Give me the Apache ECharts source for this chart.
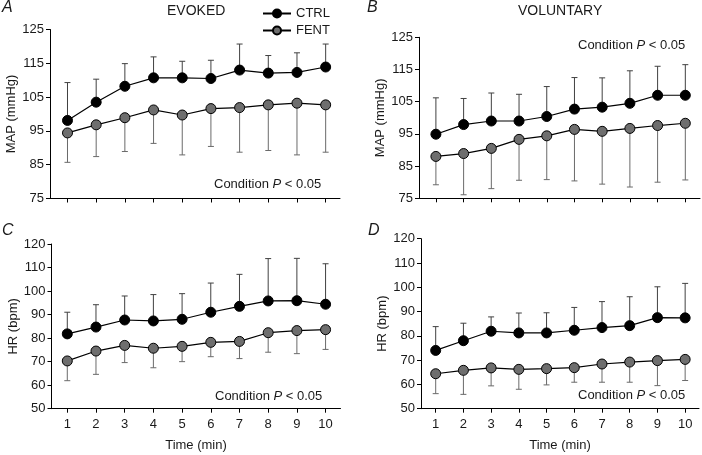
<!DOCTYPE html>
<html>
<head>
<meta charset="utf-8">
<script src="https://cdn.jsdelivr.net/npm/echarts@6/dist/echarts.min.js"></script>
<style>
  html, body { margin: 0; padding: 0; background: #fff; }
  #main { width: 702px; height: 455px; }
</style>
</head>
<body>
<div id="main"></div>
<script>
// time points (min)
var times = [1, 2, 3, 4, 5, 6, 7, 8, 9, 10];
var mapTicks = [75, 125, 10];
var hrTicks = [50, 120, 10];

// A - evoked MAP
var evokedMapCtrl = [98.1, 103.5, 108.2, 110.7, 110.7, 110.5, 113.0, 112.1, 112.3, 113.9];
var evokedMapCtrlSd = [11.2, 6.8, 6.7, 6.2, 4.9, 5.4, 7.7, 5.2, 5.8, 6.8];
var evokedMapFent = [94.4, 96.8, 98.9, 101.2, 99.7, 101.6, 101.9, 102.7, 103.2, 102.7];
var evokedMapFentSd = [8.7, 9.4, 10.0, 9.9, 11.8, 11.2, 13.2, 13.5, 15.3, 14.0];

// B - voluntary MAP
var volMapCtrl = [94.9, 97.9, 99.0, 99.0, 100.4, 102.7, 103.3, 104.5, 107.0, 107.0];
var volMapCtrlSd = [11.3, 8.1, 8.7, 8.3, 9.3, 9.8, 9.1, 10.1, 9.0, 9.5];
var volMapFent = [88.0, 88.9, 90.5, 93.3, 94.4, 96.4, 95.8, 96.7, 97.6, 98.3];
var volMapFentSd = [8.8, 12.8, 12.5, 12.7, 13.6, 16.0, 16.4, 18.2, 17.6, 17.6];

// C - evoked HR
var evokedHrCtrl = [81.8, 84.7, 87.7, 87.3, 88.0, 91.0, 93.5, 95.8, 95.9, 94.4];
var evokedHrCtrlSd = [9.2, 9.5, 10.2, 11.2, 10.9, 12.4, 13.6, 18.0, 18.0, 17.2];
var evokedHrFent = [70.3, 74.5, 76.9, 75.7, 76.5, 78.2, 78.6, 82.3, 83.2, 83.6];
var evokedHrFentSd = [8.4, 9.9, 7.3, 8.3, 6.5, 6.1, 7.3, 8.3, 9.8, 8.4];

// D - voluntary HR
var volHrCtrl = [74.0, 78.0, 81.9, 81.2, 81.2, 82.3, 83.4, 84.2, 87.5, 87.4];
var volHrCtrlSd = [9.8, 7.2, 5.9, 8.2, 8.3, 9.4, 10.7, 11.9, 12.7, 14.2];
var volHrFent = [64.4, 65.8, 66.8, 66.2, 66.5, 66.9, 68.4, 69.2, 69.8, 70.3];
var volHrFentSd = [8.2, 9.9, 7.4, 8.2, 6.7, 6.0, 7.5, 8.3, 10.3, 8.7];

var FONT = '"Liberation Sans", Arial, sans-serif';
var TXT = '#1a1a1a';

var panels = [
  { ctrl: evokedMapCtrl, ctrlSd: evokedMapCtrlSd, fent: evokedMapFent, fentSd: evokedMapFentSd,
    ticks: mapTicks, name: 'MAP (mmHg)', grid: { left: 50, top: 29.5, width: 290, height: 169 },
    xmin: 0.39, xmax: 10.5, bottomRow: false },
  { ctrl: volMapCtrl, ctrlSd: volMapCtrlSd, fent: volMapFent, fentSd: volMapFentSd,
    ticks: mapTicks, name: 'MAP (mmHg)', grid: { left: 419, top: 37.3, width: 281, height: 161 },
    xmin: 0.39, xmax: 10.53, bottomRow: false },
  { ctrl: evokedHrCtrl, ctrlSd: evokedHrCtrlSd, fent: evokedHrFent, fentSd: evokedHrFentSd,
    ticks: hrTicks, name: 'HR (bpm)', grid: { left: 51.5, top: 244, width: 289, height: 164.7 },
    xmin: 0.45, xmax: 10.52, bottomRow: true },
  { ctrl: volHrCtrl, ctrlSd: volHrCtrlSd, fent: volHrFent, fentSd: volHrFentSd,
    ticks: hrTicks, name: 'HR (bpm)', grid: { left: 421, top: 238.7, width: 278, height: 170 },
    xmin: 0.47, xmax: 10.5, bottomRow: true }
];

function pairs(vals) {
  return times.map(function (t, i) { return [t, vals[i]]; });
}
function barData(vals, sd, dir) {
  return times.map(function (t, i) { return [t, vals[i], sd[i], dir]; });
}

// vertical error bar with a cap, from the mean up (dir 1) or down (dir -1)
function errorBar(params, api) {
  var x = api.value(0), y = api.value(1), e = api.value(2), dir = api.value(3);
  var p0 = api.coord([x, y]);
  var p1 = api.coord([x, y + dir * e]);
  var style = { stroke: api.visual('color'), lineWidth: 1 };
  return {
    type: 'group',
    children: [
      { type: 'line', shape: { x1: p0[0], y1: p0[1], x2: p1[0], y2: p1[1] }, style: style },
      { type: 'line', shape: { x1: p1[0] - 3, y1: p1[1], x2: p1[0] + 3, y2: p1[1] }, style: style }
    ]
  };
}

var grids = [], xAxes = [], yAxes = [], series = [];
panels.forEach(function (p, k) {
  grids.push(p.grid);
  xAxes.push({
    type: 'value', gridIndex: k, min: p.xmin, max: p.xmax,
    name: p.bottomRow ? 'Time (min)' : '', nameLocation: 'middle', nameGap: 30,
    nameTextStyle: { fontFamily: FONT, fontSize: 13, color: TXT },
    axisLine: { show: true, onZero: false, lineStyle: { color: '#000', width: 1 } },
    axisTick: { show: true, length: 4, customValues: times, lineStyle: { color: '#000' } },
    axisLabel: { show: p.bottomRow, customValues: times, margin: 9,
      fontFamily: FONT, fontSize: 13, color: TXT },
    splitLine: { show: false }
  });
  yAxes.push({
    type: 'value', gridIndex: k, min: p.ticks[0], max: p.ticks[1], interval: p.ticks[2],
    name: p.name, nameLocation: 'middle', nameGap: 32, nameRotate: 90,
    nameTextStyle: { fontFamily: FONT, fontSize: 13, color: TXT },
    axisLine: { show: true, lineStyle: { color: '#000', width: 1 } },
    axisTick: { show: true, length: 4, lineStyle: { color: '#000' } },
    axisLabel: { margin: 6, fontFamily: FONT, fontSize: 13, color: TXT },
    splitLine: { show: false }
  });
  series.push({
    type: 'custom', name: 'ctrl-sd', xAxisIndex: k, yAxisIndex: k, z: 1, silent: true,
    itemStyle: { color: '#404040' }, renderItem: errorBar, data: barData(p.ctrl, p.ctrlSd, 1)
  });
  series.push({
    type: 'custom', name: 'fent-sd', xAxisIndex: k, yAxisIndex: k, z: 1, silent: true,
    itemStyle: { color: '#6a6a6a' }, renderItem: errorBar, data: barData(p.fent, p.fentSd, -1)
  });
  series.push({
    type: 'line', name: 'CTRL', xAxisIndex: k, yAxisIndex: k, z: 3,
    symbol: 'circle', symbolSize: 10,
    lineStyle: { color: '#000', width: 1.2 },
    itemStyle: { color: '#000', borderColor: '#000', borderWidth: 1 },
    data: pairs(p.ctrl)
  });
  series.push({
    type: 'line', name: 'FENT', xAxisIndex: k, yAxisIndex: k, z: 3,
    symbol: 'circle', symbolSize: 10,
    lineStyle: { color: '#000', width: 1.2 },
    itemStyle: { color: '#6e6e6e', borderColor: '#000', borderWidth: 1 },
    data: pairs(p.fent)
  });
});

var condStyle = {
  fontFamily: FONT, fontSize: 13, fontWeight: 'normal', color: TXT,
  rich: { i: { fontFamily: FONT, fontSize: 13, fontStyle: 'italic', color: TXT } }
};
var letterStyle = { fontFamily: FONT, fontSize: 16, fontStyle: 'italic', fontWeight: 'normal', color: TXT };
var headStyle = { fontFamily: FONT, fontSize: 14, fontWeight: 'normal', color: TXT };

var titles = [
  { text: 'A', left: 2, top: 0, padding: 0, textStyle: letterStyle },
  { text: 'B', left: 367, top: 0, padding: 0, textStyle: letterStyle },
  { text: 'C', left: 2, top: 223, padding: 0, textStyle: letterStyle },
  { text: 'D', left: 368, top: 223, padding: 0, textStyle: letterStyle },
  { text: 'EVOKED', left: 167, top: 4, padding: 0, textStyle: headStyle },
  { text: 'VOLUNTARY', left: 518, top: 4, padding: 0, textStyle: headStyle },
  { text: 'Condition {i|P} < 0.05', left: 214, top: 178, padding: 0, textStyle: condStyle },
  { text: 'Condition {i|P} < 0.05', left: 578, top: 39, padding: 0, textStyle: condStyle },
  { text: 'Condition {i|P} < 0.05', left: 215, top: 390, padding: 0, textStyle: condStyle },
  { text: 'Condition {i|P} < 0.05', left: 578, top: 389, padding: 0, textStyle: condStyle }
];

var chart = echarts.init(document.getElementById('main'), null, { renderer: 'canvas' });
chart.setOption({
  animation: false,
  backgroundColor: '#fff',
  title: titles,
  legend: {
    data: ['CTRL', 'FENT'], orient: 'vertical', left: 262, top: 7, padding: 0,
    itemWidth: 28, itemHeight: 10, itemGap: 4, selectedMode: false,
    textStyle: { fontFamily: FONT, fontSize: 13, color: TXT }
  },
  grid: grids,
  xAxis: xAxes,
  yAxis: yAxes,
  series: series
});
</script>
</body>
</html>
